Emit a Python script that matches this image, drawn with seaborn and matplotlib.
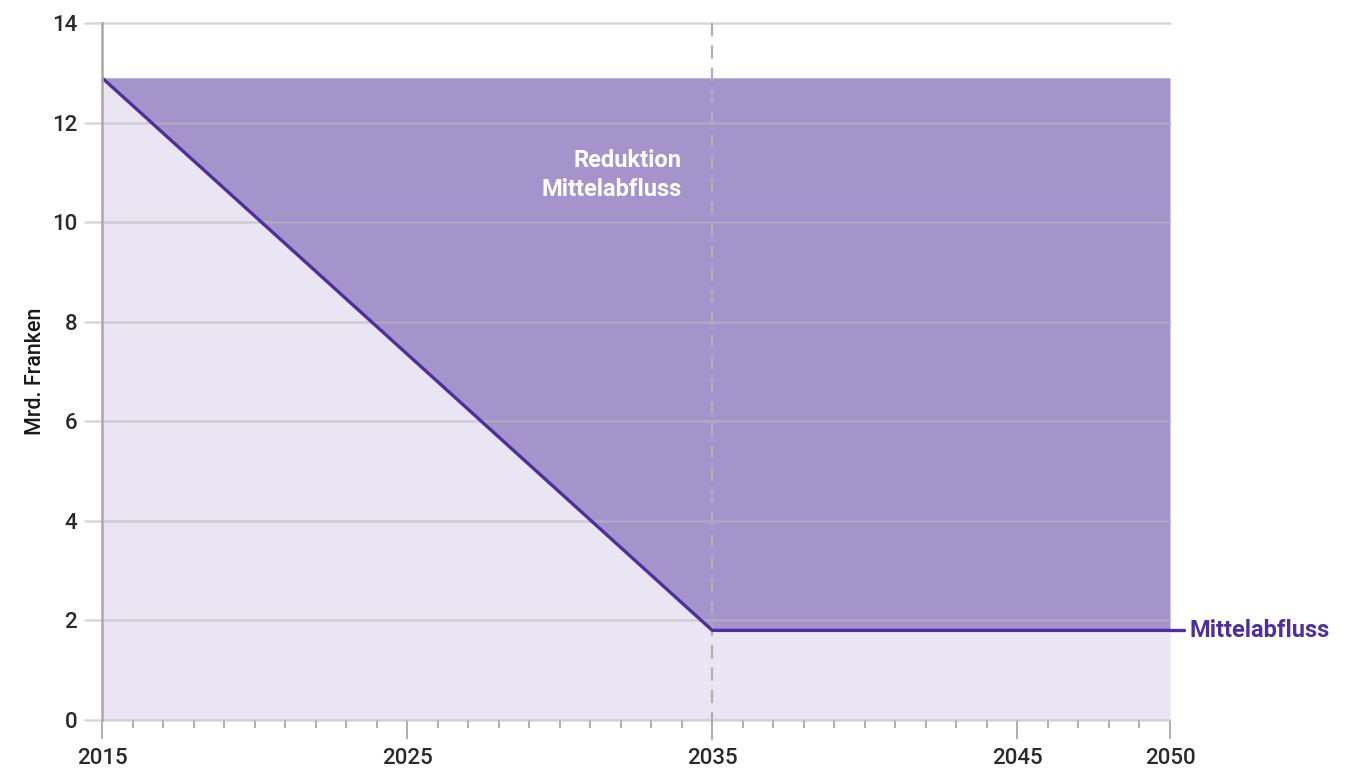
import numpy as np
import pandas as pd
import matplotlib
matplotlib.use("Agg")
import matplotlib.pyplot as plt
import seaborn as sns

# data
years = [2015, 2035, 2050]
abfluss = [12.9, 1.8, 1.8]          # Mrd. Franken
start_level = 12.9
yticks = [0, 2, 4, 6, 8, 10, 12, 14]
xticks_major = [2015, 2025, 2035, 2045, 2050]

DARK = "#a593cc"
LIGHT = "#e9e5f3"
LINE = "#4f2f9e"
GRID = "#b9b9bd"

sns.set_theme(style="white")
plt.rcParams["font.family"] = ["Roboto", "DejaVu Sans"]

df = pd.DataFrame({"Jahr": years, "Abfluss": abfluss})

fig = plt.figure(figsize=(13.47, 7.73), dpi=100)
ax = fig.add_axes([102 / 1347, 53 / 773, 1068 / 1347, 697 / 773])

# fills
ax.fill_between(df["Jahr"], 0, df["Abfluss"], color=LIGHT, lw=0, zorder=1)
ax.fill_between(df["Jahr"], df["Abfluss"], start_level, color=DARK, lw=0, zorder=1)

# gridlines over the fills
for v in yticks:
    ax.axhline(v, color=GRID, lw=1.8, alpha=0.55, zorder=2, xmin=-0.016, clip_on=False)

sns.lineplot(data=df, x="Jahr", y="Abfluss", color=LINE, lw=2.4, ax=ax, zorder=4)
ax.plot([2050, 2050.45], [abfluss[-1], abfluss[-1]], color=LINE, lw=2.4, clip_on=False, zorder=4)

# dashed marker at 2035
ax.plot([2035, 2035], [14, -0.4], color="#b0b0b0", lw=1.6, ls=(0, (6, 4)), clip_on=False, zorder=3)

ax.set_xlim(2015, 2050)
ax.set_ylim(0, 14)
ax.set_yticks(yticks)
ax.set_xticks(xticks_major)
ax.set_xticks(np.arange(2015, 2051), minor=True)

for s in ["top", "right", "bottom"]:
    ax.spines[s].set_visible(False)
ax.spines["left"].set_color("#a8a8a8")
ax.spines["left"].set_linewidth(1.8)
ax.spines["left"].set_zorder(5)

ax.tick_params(axis="y", length=0, pad=18, labelsize=16, labelcolor="#2a2a2a")
ax.tick_params(axis="x", which="major", length=14, width=1.3, color="#a8a8a8",
               pad=6, labelsize=16, labelcolor="#2a2a2a", bottom=True)
ax.tick_params(axis="x", which="minor", length=6, width=1.3, color="#a8a8a8", bottom=True)
for t in ax.get_xticklabels() + ax.get_yticklabels():
    t.set_fontweight("medium")

ax.set_xlabel("")
ax.set_ylabel("Mrd. Franken", fontsize=15.5, fontweight="medium", color="#1a1a1a", labelpad=4)

ax.text(2034.0, 10.95, "Reduktion\nMittelabfluss", ha="right", va="center",
        color="white", fontsize=17, fontweight="bold", linespacing=1.3, zorder=6)
ax.text(2050.65, abfluss[-1], "Mittelabfluss", ha="left", va="center",
        color=LINE, fontsize=17, fontweight="bold", clip_on=False)

fig.savefig("out.png", dpi=100)
